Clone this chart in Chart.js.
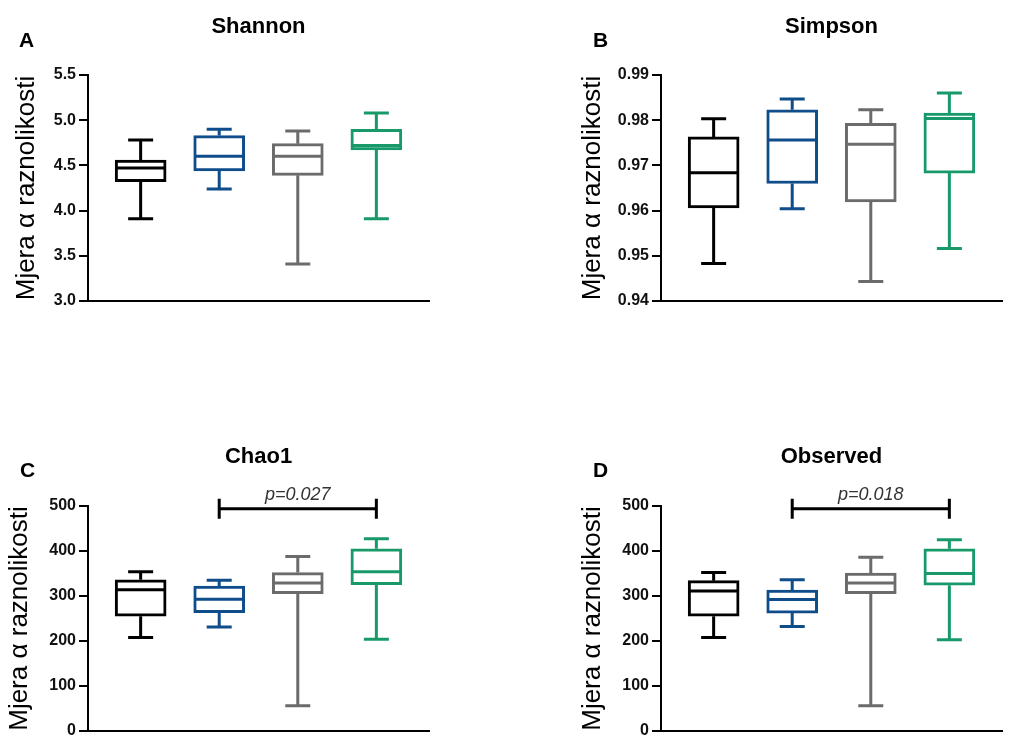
<!DOCTYPE html>
<html>
<head>
<meta charset="utf-8">
<script src="https://cdn.jsdelivr.net/npm/chart.js@4.4.1/dist/chart.umd.min.js"></script>
<style>
  html, body { margin: 0; padding: 0; background: #ffffff; overflow: hidden; }
  body { width: 1009px; height: 735px; position: relative; }
  canvas { position: absolute; }
</style>
</head>
<body>
<canvas id="cA" width="500" height="320" style="left:0px;top:0px"></canvas>
<canvas id="cB" width="509" height="320" style="left:500px;top:0px"></canvas>
<canvas id="cC" width="500" height="310" style="left:0px;top:440px"></canvas>
<canvas id="cD" width="509" height="310" style="left:500px;top:440px"></canvas>
<script>
// ---------- DATA ----------
const groupPositions = [1, 2, 3, 4];
const groupColors = ['#000000', '#0f4c8a', '#6b6b6b', '#17996a'];
const yAxisTitle = 'Mjera α raznolikosti';

const panelTitles = ['Shannon', 'Simpson', 'Chao1', 'Observed'];
const panelLetters = ['A', 'B', 'C', 'D'];

// Shannon
const shannonMin    = [3.91, 4.24, 3.41, 3.91];
const shannonQ1     = [4.32, 4.44, 4.39, 4.67];
const shannonMedian = [4.47, 4.60, 4.60, 4.72];
const shannonQ3     = [4.56, 4.83, 4.74, 4.90];
const shannonMax    = [4.78, 4.90, 4.88, 5.08];
const shannonTicks  = [3.0, 3.5, 4.0, 4.5, 5.0, 5.5];

// Simpson
const simpsonMin    = [0.9483, 0.9604, 0.9443, 0.9516];
const simpsonQ1     = [0.9606, 0.9660, 0.9619, 0.9683];
const simpsonMedian = [0.9684, 0.9756, 0.9747, 0.9804];
const simpsonQ3     = [0.9763, 0.9823, 0.9793, 0.9816];
const simpsonMax    = [0.9803, 0.9847, 0.9823, 0.9860];
const simpsonTicks  = [0.94, 0.95, 0.96, 0.97, 0.98, 0.99];

// Chao1
const chaoMin    = [208, 231, 56, 204];
const chaoQ1     = [255, 263, 305, 325];
const chaoMedian = [314, 293, 329, 354];
const chaoQ3     = [336, 322, 352, 405];
const chaoMax    = [354, 335, 388, 427];
const chaoTicks  = [0, 100, 200, 300, 400, 500];
const chaoBracket = [2, 4, 494];      // from group, to group, value
const chaoPLabel = 'p=0.027';

// Observed
const observedMin    = [208, 232, 56, 203];
const observedQ1     = [255, 262, 305, 324];
const observedMedian = [311, 292, 329, 350];
const observedQ3     = [334, 313, 351, 405];
const observedMax    = [352, 336, 386, 425];
const observedTicks  = [0, 100, 200, 300, 400, 500];
const observedBracket = [2, 4, 494];
const observedPLabel = 'p=0.018';

// ---------- DRAWING ----------
const FONT = "'Liberation Sans', Arial, sans-serif";

function makeChart(canvasId, opts) {
  const {title, letter, min, q1, median, q3, max, ticks, decimals,
         axisWidth, titleCenterX, padding, letterX, letterY, titleY,
         bracket, pLabel} = opts;

  const boxPlugin = {
    id: 'boxWhiskers_' + canvasId,
    beforeDatasetsDraw(chart) {
      const ctx = chart.ctx, xs = chart.scales.x, ys = chart.scales.y;
      ctx.save();
      ctx.lineWidth = 3;
      ctx.lineCap = 'butt';
      groupPositions.forEach((g, i) => {
        const x = xs.getPixelForValue(g);
        ctx.strokeStyle = groupColors[i];
        ctx.beginPath();
        ctx.moveTo(x, ys.getPixelForValue(q3[i]));
        ctx.lineTo(x, ys.getPixelForValue(max[i]));
        ctx.moveTo(x, ys.getPixelForValue(q1[i]));
        ctx.lineTo(x, ys.getPixelForValue(min[i]));
        const cap = 12.5;
        ctx.moveTo(x - cap, ys.getPixelForValue(max[i]));
        ctx.lineTo(x + cap, ys.getPixelForValue(max[i]));
        ctx.moveTo(x - cap, ys.getPixelForValue(min[i]));
        ctx.lineTo(x + cap, ys.getPixelForValue(min[i]));
        ctx.stroke();
      });
      ctx.restore();
    },
    afterDatasetsDraw(chart) {
      const ctx = chart.ctx, xs = chart.scales.x, ys = chart.scales.y;
      ctx.save();
      ctx.lineWidth = 3;
      groupPositions.forEach((g, i) => {
        const x = xs.getPixelForValue(g);
        const y = ys.getPixelForValue(median[i]);
        ctx.strokeStyle = groupColors[i];
        ctx.beginPath();
        ctx.moveTo(x - 24, y);
        ctx.lineTo(x + 24, y);
        ctx.stroke();
      });
      if (bracket) {
        const x1 = xs.getPixelForValue(bracket[0]);
        const x2 = xs.getPixelForValue(bracket[1]);
        const y = ys.getPixelForValue(bracket[2]);
        ctx.strokeStyle = '#000';
        ctx.lineWidth = 3;
        ctx.beginPath();
        ctx.moveTo(x1, y); ctx.lineTo(x2, y);
        ctx.moveTo(x1, y - 10); ctx.lineTo(x1, y + 10);
        ctx.moveTo(x2, y - 10); ctx.lineTo(x2, y + 10);
        ctx.stroke();
        ctx.fillStyle = '#333';
        ctx.font = 'italic 18px ' + FONT;
        ctx.textAlign = 'center';
        ctx.textBaseline = 'alphabetic';
        ctx.fillText(pLabel, (x1 + x2) / 2, y - 9);
      }
      ctx.restore();
    },
    afterDraw(chart) {
      const ctx = chart.ctx, ca = chart.chartArea;
      ctx.save();
      ctx.fillStyle = '#000';
      ctx.font = 'bold 22px ' + FONT;
      ctx.textBaseline = 'alphabetic';
      ctx.textAlign = 'center';
      ctx.fillText(title, (ca.left + ca.right) / 2, titleY);
      ctx.font = 'bold 21px ' + FONT;
      ctx.textAlign = 'left';
      ctx.fillText(letter, letterX, letterY);
      ctx.restore();
    }
  };

  return new Chart(document.getElementById(canvasId), {
    type: 'bar',
    data: {
      datasets: [{
        data: groupPositions.map((g, i) => ({ x: g, y: [q1[i], q3[i]] })),
        backgroundColor: '#ffffff',
        borderColor: groupColors,
        borderWidth: 3,
        borderSkipped: false,
        barThickness: 51
      }]
    },
    options: {
      responsive: false,
      animation: false,
      devicePixelRatio: 1,
      layout: { padding: padding },
      plugins: { legend: { display: false }, tooltip: { enabled: false }, title: { display: false } },
      scales: {
        x: {
          type: 'linear',
          min: 0.33, max: 4.67,
          offset: false,
          grid: { display: false },
          ticks: { display: false },
          border: { display: true, color: '#000', width: 2 },
          afterFit(s) { s.height = 0; }
        },
        y: {
          type: 'linear',
          min: ticks[0], max: ticks[ticks.length - 1],
          afterBuildTicks(s) { s.ticks = ticks.map(v => ({ value: v })); },
          ticks: {
            callback: v => Number(v).toFixed(decimals),
            color: '#111',
            font: { family: FONT, size: 16, weight: 'bold' },
            padding: 3
          },
          grid: { display: true, drawOnChartArea: false, drawTicks: true, tickLength: 9, color: '#000', lineWidth: 2 },
          border: { display: true, color: '#000', width: 2 },
          title: {
            display: true,
            text: yAxisTitle,
            color: '#000',
            font: { family: FONT, size: 26, weight: 'normal' },
            padding: { top: titleCenterX - 15.6, bottom: 0 }
          },
          afterFit(s) { s.width = axisWidth; }
        }
      }
    },
    plugins: [boxPlugin]
  });
}

makeChart('cA', {
  title: panelTitles[0], letter: panelLetters[0],
  min: shannonMin, q1: shannonQ1, median: shannonMedian, q3: shannonQ3, max: shannonMax,
  ticks: shannonTicks, decimals: 1,
  axisWidth: 88, titleCenterX: 27,
  padding: { left: 0, top: 75, right: 71, bottom: 19 },
  letterX: 19, letterY: 47, titleY: 33
});
makeChart('cB', {
  title: panelTitles[1], letter: panelLetters[1],
  min: simpsonMin, q1: simpsonQ1, median: simpsonMedian, q3: simpsonQ3, max: simpsonMax,
  ticks: simpsonTicks, decimals: 2,
  axisWidth: 161, titleCenterX: 93,
  padding: { left: 0, top: 75, right: 7, bottom: 19 },
  letterX: 93, letterY: 47, titleY: 33
});
makeChart('cC', {
  title: panelTitles[2], letter: panelLetters[2],
  min: chaoMin, q1: chaoQ1, median: chaoMedian, q3: chaoQ3, max: chaoMax,
  ticks: chaoTicks, decimals: 0,
  axisWidth: 88, titleCenterX: 20,
  padding: { left: 0, top: 66, right: 71, bottom: 19 },
  letterX: 20, letterY: 37, titleY: 23,
  bracket: chaoBracket, pLabel: chaoPLabel
});
makeChart('cD', {
  title: panelTitles[3], letter: panelLetters[3],
  min: observedMin, q1: observedQ1, median: observedMedian, q3: observedQ3, max: observedMax,
  ticks: observedTicks, decimals: 0,
  axisWidth: 161, titleCenterX: 93,
  padding: { left: 0, top: 66, right: 7, bottom: 19 },
  letterX: 93, letterY: 37, titleY: 23,
  bracket: observedBracket, pLabel: observedPLabel
});
</script>
</body>
</html>
